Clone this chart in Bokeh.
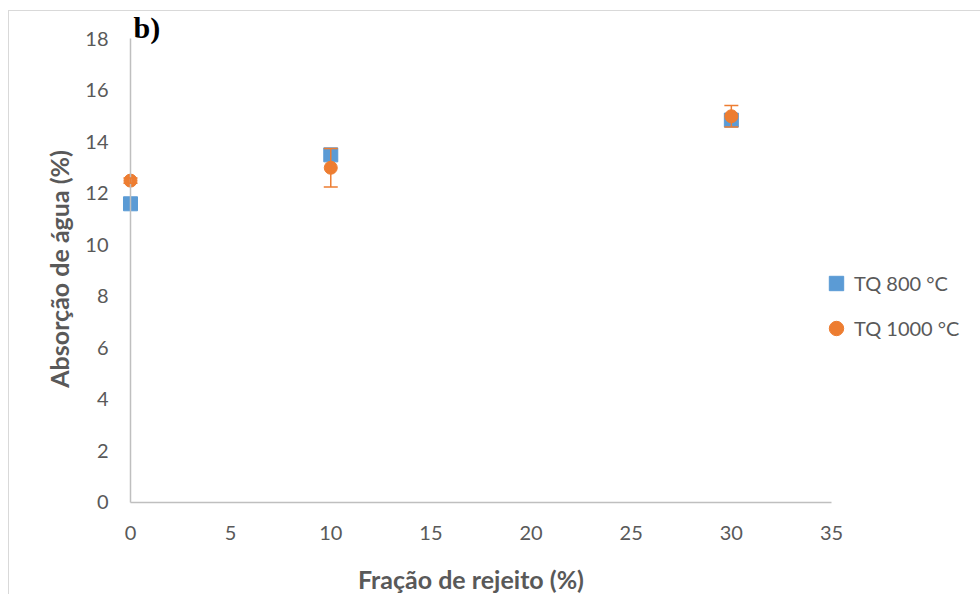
import math
from bokeh.plotting import figure
from bokeh.models import Range1d, Whisker, ColumnDataSource, Legend, LegendItem, Label, TeeHead, FixedTicker, LinearAxis
from bokeh.embed import file_html
from bokeh.resources import INLINE

x_vals = [0, 10, 30]
tq800 = [11.6, 13.5, 14.85]
tq1000 = [12.5, 13.0, 15.0]
tq1000_err = [0.1, 0.75, 0.42]
x_ticks = [0, 5, 10, 15, 20, 25, 30, 35]
y_ticks = [0, 2, 4, 6, 8, 10, 12, 14, 16, 18]

BLUE = "#5B9BD5"
ORANGE = "#ED7D31"
GREY = "#595959"
AXIS = "#BFBFBF"
FONT = "Lato"

p = figure(width=980, height=594, output_backend="svg", toolbar_location=None,
           x_range=Range1d(-6.49, 42.44), y_range=Range1d(-3.573, 19.495),
           x_axis_location=None, y_axis_location=None,
           min_border=0, min_border_left=0, min_border_right=0, min_border_top=0, min_border_bottom=0)
p.outline_line_color = None
p.xgrid.visible = False
p.ygrid.visible = False
p.border_fill_color = None
p.background_fill_color = None
p.styles = {
    "background-color": "white",
    "background-image": "linear-gradient(#d9d9d9,#d9d9d9), linear-gradient(#d9d9d9,#d9d9d9)",
    "background-size": "1px 100%, 100% 1px",
    "background-position": "8px 10px, 8px 10px",
    "background-repeat": "no-repeat",
}

def style_axis(ax):
    ax.major_tick_line_color = None
    ax.minor_tick_line_color = None
    ax.major_tick_out = 0
    ax.major_tick_in = 0
    ax.major_label_text_font = FONT
    ax.major_label_text_font_size = "20px"
    ax.major_label_text_color = GREY
    ax.axis_line_color = AXIS
    ax.axis_line_width = 1.5

xaxis = LinearAxis(fixed_location=0, bounds=(0, 35), ticker=FixedTicker(ticks=x_ticks))
style_axis(xaxis)
xaxis.major_label_standoff = 24
p.add_layout(xaxis, "below")

yaxis = LinearAxis(fixed_location=0, bounds=(0, 18), ticker=FixedTicker(ticks=y_ticks))
style_axis(yaxis)
yaxis.major_label_standoff = 22
p.add_layout(yaxis, "left")

src800 = ColumnDataSource(dict(x=x_vals, y=tq800))
src1000 = ColumnDataSource(dict(x=x_vals, y=tq1000,
                                upper=[v + e for v, e in zip(tq1000, tq1000_err)],
                                lower=[v - e for v, e in zip(tq1000, tq1000_err)]))

r800 = p.scatter("x", "y", source=src800, marker="square", size=14, color=BLUE)
w = Whisker(source=src1000, base="x", upper="upper", lower="lower",
            line_color=ORANGE, line_width=1.5,
            upper_head=TeeHead(size=14, line_color=ORANGE, line_width=1.5),
            lower_head=TeeHead(size=14, line_color=ORANGE, line_width=1.5))
w.level = "overlay"
p.add_layout(w)
r1000 = p.scatter("x", "y", source=src1000, marker="circle", size=13, color=ORANGE)

legend = Legend(items=[LegendItem(label="TQ 800 °C", renderers=[r800]),
                       LegendItem(label="TQ 1000 °C", renderers=[r1000])],
                location=(818, 248), orientation="vertical",
                border_line_color=None, background_fill_alpha=0,
                padding=0, margin=0, spacing=9,
                glyph_width=36, glyph_height=36, label_height=36, label_standoff=0,
                label_text_font=FONT, label_text_font_size="20px", label_text_color=GREY)
p.add_layout(legend)

# axis titles and panel tag
p.add_layout(Label(x=17.0, y=-2.99, text="Fração de rejeito (%)", text_font=FONT,
                   text_font_style="bold", text_font_size="25px", text_color=GREY,
                   text_align="center", text_baseline="middle"))
p.add_layout(Label(x=-3.545, y=9.07, text="Absorção de água (%)", text_font=FONT,
                   text_font_style="bold", text_font_size="25px", text_color=GREY,
                   text_align="center", text_baseline="middle", angle=math.pi / 2))
p.add_layout(Label(x=0.15, y=19.1, text="b)", text_font="Liberation Serif", text_font_style="bold",
                   text_font_size="30px", text_color="black", text_baseline="top"))

open("out.html", "w").write(file_html(p, INLINE))
